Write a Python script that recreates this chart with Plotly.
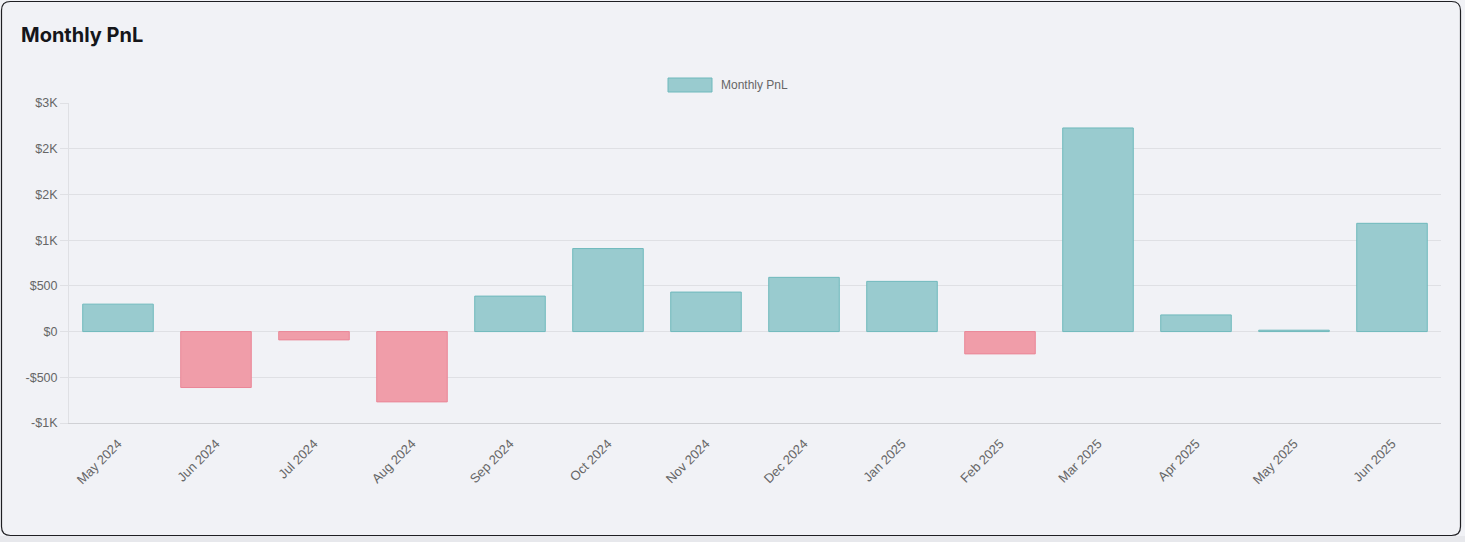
import plotly.graph_objects as go

months = ["May 2024", "Jun 2024", "Jul 2024", "Aug 2024", "Sep 2024", "Oct 2024", "Nov 2024",
          "Dec 2024", "Jan 2025", "Feb 2025", "Mar 2025", "Apr 2025", "May 2025", "Jun 2025"]
pnl = [300, -612, -91, -769, 388, 908, 432, 593, 549, -244, 2227, 182, 15, 1184]

tick_vals = [-1000, -500, 0, 500, 1000, 1500, 2000, 2500]
tick_text = ["-$1K", "-$500", "$0", "$500", "$1K", "$2K", "$2K", "$3K"]

series_name = "Monthly PnL"
chart_title = "Monthly PnL"

POS_FILL = "#99cbcf"
POS_LINE = "#6fb9bc"
NEG_FILL = "#f09da9"
NEG_LINE = "#ea8797"
BG = "#f1f2f6"
GRID = "#dfe0e4"
TXT = "#666666"

W, H = 1465, 542
L, R, T, B = 69, 24, 103, 119
pw, ph = W - L - R, H - T - B


def px(x):
    return (x - L) / pw


def py(y):
    return (H - B - y) / ph


fig = go.Figure()
fig.add_trace(go.Bar(
    x=months, y=pnl, name=series_name, showlegend=False,
    marker=dict(color=[POS_FILL if v >= 0 else NEG_FILL for v in pnl],
                line=dict(color=[POS_LINE if v >= 0 else NEG_LINE for v in pnl], width=1)),
    hoverinfo="x+y",
))

# rounded card border
x0, y0, x1, y1, r = 1.5, 1.5, 1460.5, 535.5, 9
path = (f"M {px(x0 + r)},{py(y0)} L {px(x1 - r)},{py(y0)} Q {px(x1)},{py(y0)} {px(x1)},{py(y0 + r)} "
        f"L {px(x1)},{py(y1 - r)} Q {px(x1)},{py(y1)} {px(x1 - r)},{py(y1)} "
        f"L {px(x0 + r)},{py(y1)} Q {px(x0)},{py(y1)} {px(x0)},{py(y1 - r)} "
        f"L {px(x0)},{py(y0 + r)} Q {px(x0)},{py(y0)} {px(x0 + r)},{py(y0)} Z")
shapes = [
    # page strip below the card
    dict(type="rect", xref="paper", yref="paper", x0=px(0), x1=px(W), y0=py(H), y1=py(536),
         fillcolor="#e7e8ec", line=dict(width=0), layer="below"),
    dict(type="path", xref="paper", yref="paper", path=path,
         line=dict(color="#1f1f23", width=1.2), fillcolor="rgba(0,0,0,0)", layer="above"),
    # legend swatch
    dict(type="rect", xref="paper", yref="paper",
         x0=px(668), x1=px(712), y0=py(92), y1=py(78),
         fillcolor=POS_FILL, line=dict(color=POS_LINE, width=1)),
]

fig.update_layout(
    width=W, height=H,
    margin=dict(l=L, r=R, t=T, b=B, autoexpand=False),
    paper_bgcolor=BG, plot_bgcolor=BG,
    bargap=0.28,
    shapes=shapes,
    title=dict(text=chart_title, x=21 / W, xref="container", xanchor="left",
               y=1 - 35 / H, yref="container", yanchor="middle",
               font=dict(family="Inter, Roboto, sans-serif", size=20, color="#15161a", weight="bold")),
    annotations=[dict(text=series_name, xref="paper", yref="paper", x=px(719), y=py(85),
                      xanchor="left", yanchor="middle", showarrow=False,
                      font=dict(family="Liberation Sans, Arial, sans-serif", size=12, color=TXT))],
    font=dict(family="Liberation Sans, Arial, sans-serif", size=12, color=TXT),
    xaxis=dict(tickangle=-45, showgrid=False, showline=True, linecolor="#d0d1d5", linewidth=1,
               ticks="", ticklabelstandoff=7, tickfont=dict(size=13, color=TXT), fixedrange=True),
    yaxis=dict(range=[-1000, 2500], tickvals=tick_vals, ticktext=tick_text,
               showgrid=True, gridcolor=GRID, gridwidth=1,
               zeroline=True, zerolinecolor=GRID, zerolinewidth=1,
               showline=True, linecolor=GRID, linewidth=1,
               ticks="outside", ticklen=8, tickcolor=GRID,
               tickfont=dict(size=12.5, color=TXT), fixedrange=True),
)

fig.write_html("out.html", config={"displayModeBar": False},
               post_script="document.body.style.margin='0px';document.body.style.overflow='hidden';")
